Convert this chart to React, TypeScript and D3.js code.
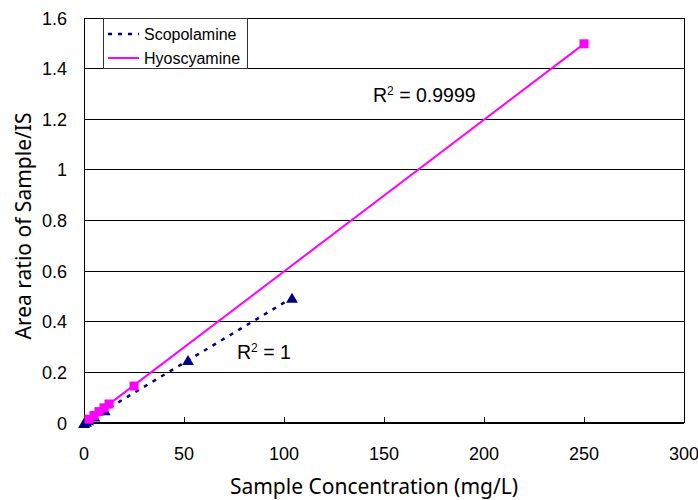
import React from "react";
import * as d3 from "d3";

const scopX = [0, 1.04, 2.08, 5.2, 10.4, 52, 104];
const scopY = [0, 0.005, 0.01, 0.025, 0.05, 0.248, 0.494];
const hyoX = [2.5, 5, 7.5, 10, 12.5, 25, 250];
const hyoY = [0.015, 0.03, 0.045, 0.06, 0.075, 0.146, 1.498];
const xTicks = [0, 50, 100, 150, 200, 250, 300];
const yTicks = [0, 0.2, 0.4, 0.6, 0.8, 1, 1.2, 1.4, 1.6];
const seriesNames = ["Scopolamine", "Hyoscyamine"];
const r2Labels = ["1", "0.9999"];

const W = 698, H = 500;
const L = 84, R = 684, T = 18, B = 423;

function fit(xs: number[], ys: number[]) {
  const mx = d3.mean(xs)!, my = d3.mean(ys)!;
  let sxy = 0, sxx = 0;
  xs.forEach((x, i) => { sxy += (x - mx) * (ys[i] - my); sxx += (x - mx) ** 2; });
  const b = sxy / sxx;
  return { b, a: my - b * mx };
}

export default function App() {
  const x = d3.scaleLinear().domain([0, 300]).range([L, R]);
  const y = d3.scaleLinear().domain([0, 1.6]).range([B, T]);
  const fs = fit(scopX, scopY);
  const fh = fit(hyoX, hyoY);
  const xs0 = d3.min(scopX)!, xs1 = d3.max(scopX)!;
  const xh0 = d3.min(hyoX)!, xh1 = d3.max(hyoX)!;
  const tri = d3.symbol().type(d3.symbolTriangle).size(60)()!;
  const sq = 9;
  const tickFont = "'Liberation Sans', Arial, sans-serif";
  const titleFont = "'Noto Sans', 'Open Sans', sans-serif";
  return (
    <svg width={W} height={H} style={{ position: "absolute", left: 0, top: 0, background: "#fff" }}>
      <rect x={0} y={0} width={W} height={H} fill="#fff" />
      {yTicks.map((t) => (
        <line key={"g" + t} x1={L} x2={R} y1={y(t)} y2={y(t)} stroke="#000" strokeWidth={1} shapeRendering="crispEdges" />
      ))}
      <line x1={L} x2={L} y1={T} y2={B} stroke="#000" strokeWidth={1} shapeRendering="crispEdges" />
      <line x1={R} x2={R} y1={T} y2={B} stroke="#000" strokeWidth={1} shapeRendering="crispEdges" />
      <line x1={L} x2={R} y1={B} y2={B} stroke="#000" strokeWidth={1.5} shapeRendering="crispEdges" />
      {xTicks.map((t) => (
        <line key={"xt" + t} x1={x(t)} x2={x(t)} y1={B} y2={B - 6} stroke="#000" strokeWidth={1} shapeRendering="crispEdges" />
      ))}
      {xTicks.map((t) => (
        <text key={"xl" + t} x={x(t)} y={460} textAnchor="middle" fontFamily={tickFont} fontSize={18}>{t}</text>
      ))}
      {yTicks.map((t) => (
        <text key={"yl" + t} x={67} y={y(t) + 6.5} textAnchor="end" fontFamily={tickFont} fontSize={18}>{t}</text>
      ))}
      <line x1={x(xh0)} x2={x(xh1)} y1={y(fh.a + fh.b * xh0)} y2={y(fh.a + fh.b * xh1)} stroke="#FF00FF" strokeWidth={2} />
      <line x1={x(xs0)} x2={x(xs1)} y1={y(fs.a + fs.b * xs0)} y2={y(fs.a + fs.b * xs1)} stroke="#000080" strokeWidth={2.5} strokeDasharray="4,6" />
      {scopX.map((v, i) => (
        <path key={"s" + i} d={tri} transform={`translate(${x(v)},${y(scopY[i]) + 1.5})`} fill="#000080" />
      ))}
      {hyoX.map((v, i) => (
        <rect key={"h" + i} x={x(v) - sq / 2} y={y(hyoY[i]) - sq / 2} width={sq} height={sq} fill="#FF00FF" />
      ))}
      <text x={373} y={102} fontFamily={tickFont} fontSize={19.5}>R<tspan dy={-7} fontSize={12}>2</tspan><tspan dy={7}> = {r2Labels[1]}</tspan></text>
      <text x={237} y={359} fontFamily={tickFont} fontSize={19.5}>R<tspan dy={-7} fontSize={12}>2</tspan><tspan dy={7}> = {r2Labels[0]}</tspan></text>
      <rect x={103.5} y={18.5} width={144} height={50} fill="#fff" stroke="#333" strokeWidth={1} />
      <line x1={108} x2={139} y1={34} y2={34} stroke="#000080" strokeWidth={2.5} strokeDasharray="4,6" />
      <line x1={108} x2={139} y1={58} y2={58} stroke="#FF00FF" strokeWidth={2} />
      <text x={144} y={39.5} fontFamily={tickFont} fontSize={16}>{seriesNames[0]}</text>
      <text x={144} y={63.5} fontFamily={tickFont} fontSize={16}>{seriesNames[1]}</text>
      <text x={374} y={494} textAnchor="middle" fontFamily={titleFont} fontSize={21}>Sample Concentration (mg/L)</text>
      <text transform={`translate(31,226) rotate(-90)`} textAnchor="middle" fontFamily={titleFont} fontSize={21}>Area ratio of Sample/IS</text>
    </svg>
  );
}
